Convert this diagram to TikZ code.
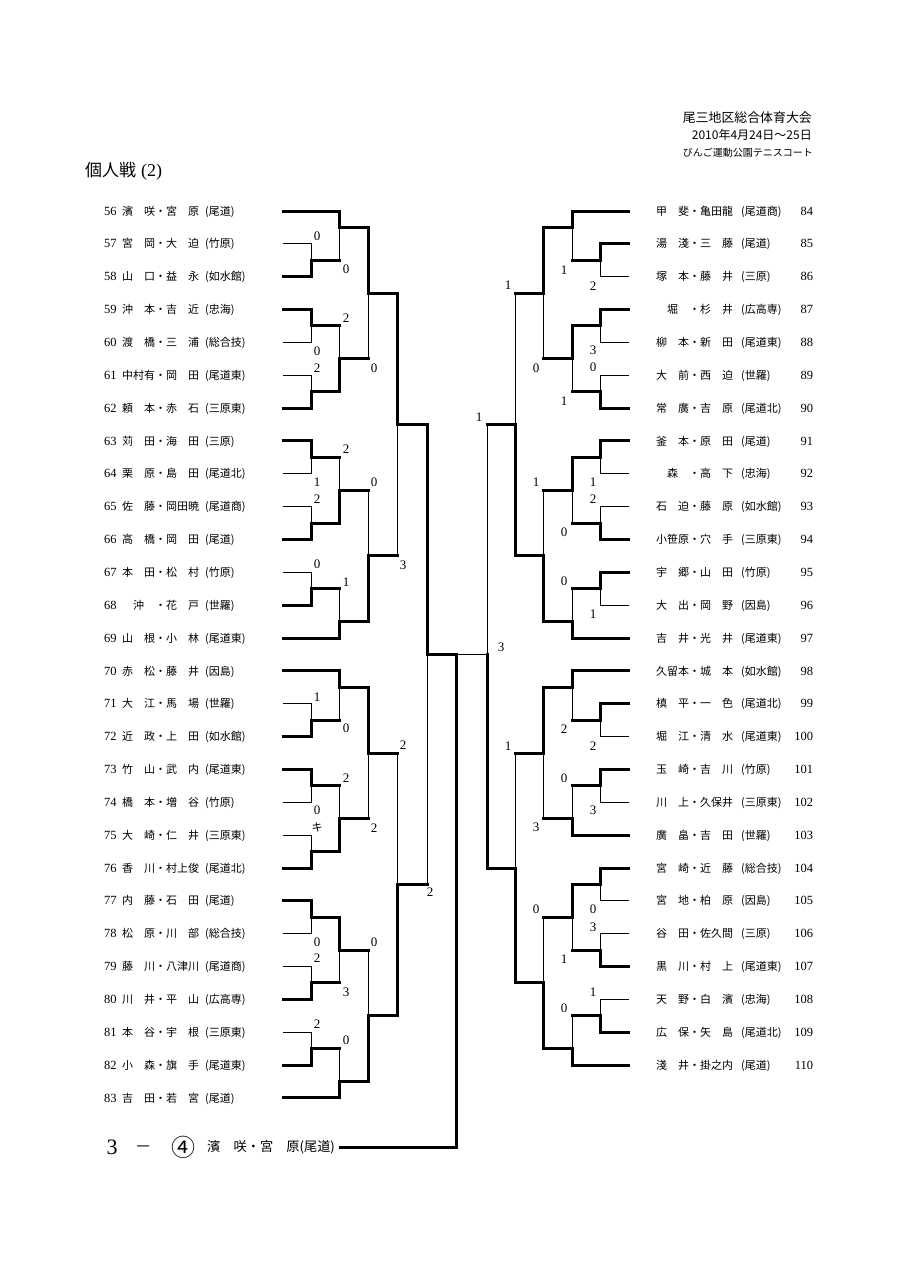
\documentclass[tikz,border=0pt]{standalone}
\usepackage{fontspec}
\setmainfont{Liberation Serif}
\newfontfamily\jp{Noto Sans CJK JP}
\newcommand{\jpf}{\jp\fontsize{11pt}{12pt}\selectfont}
\newcommand{\nmf}{\rmfamily\fontsize{12.5pt}{14pt}\selectfont}
\newcommand{\hy}[1]{211+16.425*(#1)}
% winner edge (thick), loser who had won before (thick horizontal, thin vertical), loser at first match (thin)
\newcommand{\EW}[4]{\draw[thk] (#1,{\hy{#2}}) -- (#3,{\hy{#2}}) -- (#3,{\hy{#4}});}
\newcommand{\ELw}[4]{\draw[thk] (#1,{\hy{#2}}) -- (#3,{\hy{#2}});\draw[thn] (#3,{\hy{#2}}) -- (#3,{\hy{#4}});}
\newcommand{\ELl}[4]{\draw[thn] (#1,{\hy{#2}}) -- (#3,{\hy{#2}}) -- (#3,{\hy{#4}});}
\newcommand{\LE}[4]{\node[ent] (L#1) at (104,{\hy{#2}+4.1}) {\makebox[18pt][l]{\nmf #1}\makebox[83pt][l]{\jpf #3}{\jpf (#4)}};}
\newcommand{\RE}[4]{\node[ent] (R#1) at (656,{\hy{#2}+4.1}) {\makebox[157pt][l]{\makebox[85pt][l]{\jpf #3}{\jpf (#4)}\hfill{\nmf #1}}};}
\begin{document}
\begin{tikzpicture}[x=1pt,y=-1pt,
  thk/.style={line width=3pt,line cap=rect,line join=miter},
  thn/.style={line width=1pt,line cap=rect},
  sc/.style={inner sep=0pt,font=\fontsize{13pt}{14pt}\selectfont},
  ent/.style={inner sep=0pt,anchor=base west}]
\useasboundingbox[fill=white] (0,0) rectangle (905,1280);

% header
\node[anchor=base east,inner sep=0pt] (hd1) at (812,122.8) {\jp\fontsize{12.9pt}{14pt}\selectfont 尾三地区総合体育大会};
\node[anchor=base east,inner sep=0pt] (hd2) at (812,139.5) {\jp\fontsize{12pt}{14pt}\selectfont 2010年4月24日～25日};
\node[anchor=base east,inner sep=0pt] (hd3) at (813,156.7) {\jp\fontsize{10pt}{12pt}\selectfont びんご運動公園テニスコート};
\node[anchor=base west,inner sep=0pt] (ttl) at (85,176.5) {\jp\fontsize{17pt}{20pt}\selectfont 個人戦\hspace{5pt}{\rmfamily\fontsize{18pt}{20pt}\selectfont (2)}};

% left entries
\LE{56}{0}{濱　咲・宮　原}{尾道}
\LE{57}{2}{宮　岡・大　迫}{竹原}
\LE{58}{4}{山　口・益　永}{如水館}
\LE{59}{6}{沖　本・吉　近}{忠海}
\LE{60}{8}{渡　橋・三　浦}{総合技}
\LE{61}{10}{中村有・岡　田}{尾道東}
\LE{62}{12}{頼　本・赤　石}{三原東}
\LE{63}{14}{苅　田・海　田}{三原}
\LE{64}{16}{栗　原・島　田}{尾道北}
\LE{65}{18}{佐　藤・岡田暁}{尾道商}
\LE{66}{20}{高　橋・岡　田}{尾道}
\LE{67}{22}{本　田・松　村}{竹原}
\LE{68}{24}{　沖　・花　戸}{世羅}
\LE{69}{26}{山　根・小　林}{尾道東}
\LE{70}{28}{赤　松・藤　井}{因島}
\LE{71}{30}{大　江・馬　場}{世羅}
\LE{72}{32}{近　政・上　田}{如水館}
\LE{73}{34}{竹　山・武　内}{尾道東}
\LE{74}{36}{橋　本・増　谷}{竹原}
\LE{75}{38}{大　崎・仁　井}{三原東}
\LE{76}{40}{香　川・村上俊}{尾道北}
\LE{77}{42}{内　藤・石　田}{尾道}
\LE{78}{44}{松　原・川　部}{総合技}
\LE{79}{46}{藤　川・八津川}{尾道商}
\LE{80}{48}{川　井・平　山}{広高専}
\LE{81}{50}{本　谷・宇　根}{三原東}
\LE{82}{52}{小　森・旗　手}{尾道東}
\LE{83}{54}{吉　田・若　宮}{尾道}

% right entries
\RE{84}{0}{甲　斐・亀田龍}{尾道商}
\RE{85}{2}{湯　淺・三　藤}{尾道}
\RE{86}{4}{塚　本・藤　井}{三原}
\RE{87}{6}{　堀　・杉　井}{広高専}
\RE{88}{8}{柳　本・新　田}{尾道東}
\RE{89}{10}{大　前・西　迫}{世羅}
\RE{90}{12}{常　廣・吉　原}{尾道北}
\RE{91}{14}{釜　本・原　田}{尾道}
\RE{92}{16}{　森　・高　下}{忠海}
\RE{93}{18}{石　迫・藤　原}{如水館}
\RE{94}{20}{小笹原・穴　手}{三原東}
\RE{95}{22}{宇　郷・山　田}{竹原}
\RE{96}{24}{大　出・岡　野}{因島}
\RE{97}{26}{吉　井・光　井}{尾道東}
\RE{98}{28}{久留本・城　本}{如水館}
\RE{99}{30}{槙　平・一　色}{尾道北}
\RE{100}{32}{堀　江・清　水}{尾道東}
\RE{101}{34}{玉　崎・吉　川}{竹原}
\RE{102}{36}{川　上・久保井}{三原東}
\RE{103}{38}{廣　畠・吉　田}{世羅}
\RE{104}{40}{宮　崎・近　藤}{総合技}
\RE{105}{42}{宮　地・柏　原}{因島}
\RE{106}{44}{谷　田・佐久間}{三原}
\RE{107}{46}{黒　川・村　上}{尾道東}
\RE{108}{48}{天　野・白　濱}{忠海}
\RE{109}{50}{広　保・矢　島}{尾道北}
\RE{110}{52}{淺　井・掛之内}{尾道}

% ---- left bracket ----
\EW{283}{0}{339}{1}
\ELl{283}{2}{311}{3}
\EW{283}{4}{311}{3}
\ELw{311}{3}{339}{1}
\EW{283}{6}{311}{7}
\ELl{283}{8}{311}{7}
\ELl{283}{10}{311}{11}
\EW{283}{12}{311}{11}
\ELw{311}{7}{339}{9}
\EW{311}{11}{339}{9}
\EW{339}{1}{368}{5}
\ELw{339}{9}{368}{5}
\EW{368}{5}{397}{13}
\EW{283}{14}{311}{15}
\ELl{283}{16}{311}{15}
\ELl{283}{18}{311}{19}
\EW{283}{20}{311}{19}
\ELw{311}{15}{339}{17}
\EW{311}{19}{339}{17}
\ELl{283}{22}{311}{23}
\EW{283}{24}{311}{23}
\ELw{311}{23}{339}{25}
\EW{283}{26}{339}{25}
\ELw{339}{17}{368}{21}
\EW{339}{25}{368}{21}
\ELw{368}{21}{397}{13}
\EW{397}{13}{427}{27}
\EW{283}{28}{339}{29}
\ELl{283}{30}{311}{31}
\EW{283}{32}{311}{31}
\ELw{311}{31}{339}{29}
\EW{283}{34}{311}{35}
\ELl{283}{36}{311}{35}
\ELl{283}{38}{311}{39}
\EW{283}{40}{311}{39}
\ELw{311}{35}{339}{37}
\EW{311}{39}{339}{37}
\EW{339}{29}{368}{33}
\ELw{339}{37}{368}{33}
\ELw{368}{33}{397}{41}
\EW{283}{42}{311}{43}
\ELl{283}{44}{311}{43}
\ELl{283}{46}{311}{47}
\EW{283}{48}{311}{47}
\EW{311}{43}{339}{45}
\ELw{311}{47}{339}{45}
\ELl{283}{50}{311}{51}
\EW{283}{52}{311}{51}
\ELw{311}{51}{339}{53}
\EW{283}{54}{339}{53}
\ELw{339}{45}{368}{49}
\EW{339}{53}{368}{49}
\EW{368}{49}{397}{41}
\ELw{397}{41}{427}{27}

% ---- right bracket ----
\EW{628}{0}{572}{1}
\EW{628}{2}{600}{3}
\ELl{628}{4}{600}{3}
\ELw{600}{3}{572}{1}
\EW{628}{6}{600}{7}
\ELl{628}{8}{600}{7}
\ELl{628}{10}{600}{11}
\EW{628}{12}{600}{11}
\EW{600}{7}{572}{9}
\ELw{600}{11}{572}{9}
\EW{572}{1}{543}{5}
\ELw{572}{9}{543}{5}
\ELw{543}{5}{515}{13}
\EW{628}{14}{600}{15}
\ELl{628}{16}{600}{15}
\ELl{628}{18}{600}{19}
\EW{628}{20}{600}{19}
\EW{600}{15}{572}{17}
\ELw{600}{19}{572}{17}
\EW{628}{22}{600}{23}
\ELl{628}{24}{600}{23}
\ELw{600}{23}{572}{25}
\EW{628}{26}{572}{25}
\ELw{572}{17}{543}{21}
\EW{572}{25}{543}{21}
\EW{543}{21}{515}{13}
\ELw{515}{13}{487}{27}
\EW{628}{28}{572}{29}
\EW{628}{30}{600}{31}
\ELl{628}{32}{600}{31}
\ELw{600}{31}{572}{29}
\EW{628}{34}{600}{35}
\ELl{628}{36}{600}{35}
\ELw{600}{35}{572}{37}
\EW{628}{38}{572}{37}
\EW{572}{29}{543}{33}
\ELw{572}{37}{543}{33}
\ELw{543}{33}{515}{40}
\EW{628}{40}{600}{41}
\ELl{628}{42}{600}{41}
\ELl{628}{44}{600}{45}
\EW{628}{46}{600}{45}
\EW{600}{41}{572}{43}
\ELw{600}{45}{572}{43}
\ELl{628}{48}{600}{49}
\EW{628}{50}{600}{49}
\ELw{600}{49}{572}{51}
\EW{628}{52}{572}{51}
\ELw{572}{43}{543}{47}
\EW{572}{51}{543}{47}
\EW{543}{47}{515}{40}
\EW{515}{40}{487}{27}

% ---- final ----
\draw[thn] (487,{\hy{27}}) -- (456,{\hy{27}});
\draw[thk] (427,{\hy{27}}) -- (456,{\hy{27}}) -- (456,{\hy{57}}) -- (340,{\hy{57}});
\node[inner sep=0pt] (f3) at (112,1147) {\fontsize{22pt}{24pt}\selectfont 3};
\node[anchor=base,inner sep=0pt] (fdash) at (143,1151) {\jp\fontsize{13pt}{15pt}\selectfont 一};
\node[inner sep=0pt] (f4) at (183,1147) {\jp\fontsize{24pt}{26pt}\selectfont ④};
\node[anchor=base west,inner sep=0pt] (fname) at (207,1151.8) {\jp\fontsize{13.2pt}{15pt}\selectfont 濱　咲・宮　原(尾道)};

% ---- scores ----
\foreach \px/\py/\t [count=\i] in {317/236/0, 346/269/0, 346/318/2, 317/351/0, 317/368/2, 374/368/0, 346/449/2, 317/482/1, 374/482/0, 317/499/2, 403/565/3, 317/564/0, 346/582/1, 317/697/1, 346/728/0, 403/745/2, 346/778/2, 317/810/0, 374/828/2, 430/892/2, 317/942/0, 374/942/0, 317/958/2, 346/992/3, 317/1024/2, 346/1040/0}
  {\node[sc] (sl\i) at (\px,\py) {\t};}
\node[inner sep=0pt] (ski) at (317,827) {\jp\fontsize{11pt}{12pt}\selectfont キ};
\foreach \px/\py/\t [count=\i] in {564/270/1, 593/286/2, 508/285/1, 593/350/3, 593/367/0, 536/368/0, 564/401/1, 479/417/1, 593/482/1, 536/482/1, 593/499/2, 564/532/0, 564/581/0, 593/614/1, 501/647/3, 564/729/2, 508/746/1, 593/746/2, 564/778/0, 593/810/3, 536/827/3, 536/909/0, 593/909/0, 593/927/3, 564/959/1, 593/992/1, 564/1008/0}
  {\node[sc] (sr\i) at (\px,\py) {\t};}
\end{tikzpicture}
\end{document}
